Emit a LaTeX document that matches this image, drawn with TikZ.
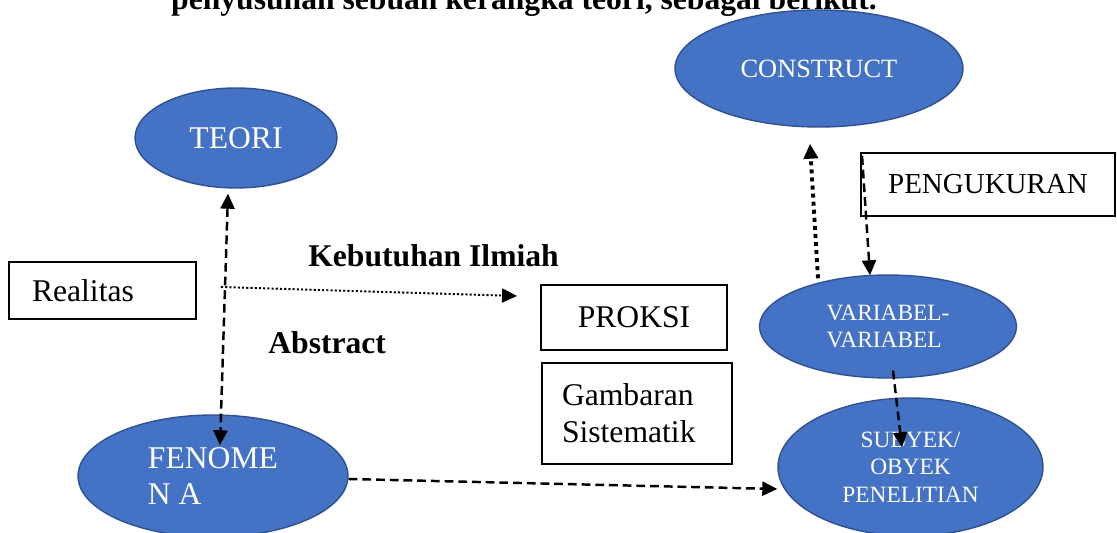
\documentclass[tikz,border=0pt]{standalone}
\usepackage{fontspec}
\setmainfont{Liberation Serif}
\usetikzlibrary{arrows.meta, shapes.geometric, calc}
\definecolor{nodeblue}{HTML}{4472C4}
\definecolor{nodeedge}{HTML}{2F528F}

\begin{document}
\begin{tikzpicture}[
    x=0.02cm, y=-0.02cm,
    >={Triangle[length=0.3cm, width=0.28cm]},
    elp/.style={ellipse, draw=nodeedge, line width=0.8pt, fill=nodeblue,
                text=white, inner sep=0pt},
    box/.style={draw, line width=1.1pt, inner sep=0pt,
                font=\fontsize{18}{21}\selectfont},
    lbl/.style={font=\bfseries\fontsize{18}{21}\selectfont, inner sep=0pt},
    dasharr/.style={->, line width=1.4pt, dash pattern=on 5pt off 2.8pt},
    dotarr/.style={->, line width=1.1pt, dash pattern=on 1.2pt off 1.2pt},
    dotthick/.style={->, line width=2.2pt, dash pattern=on 2.3pt off 2.3pt}
  ]
  \clip (0,0) rectangle (1117,533);

  % Title line (cut at the top)
  \node[lbl, anchor=base] (judul) at (524,10)
    {penyusunan sebuah kerangka teori, sebagai berikut.};

  % Ellipses
  \node[elp, minimum width=5.76cm, minimum height=2.34cm,
        font=\fontsize{15}{18}\selectfont] (construct) at (819,68.5) {CONSTRUCT};
  \node[elp, minimum width=4.04cm, minimum height=2.0cm,
        font=\fontsize{18}{21}\selectfont] (teori) at (236,138) {TEORI};
  \node[elp, minimum width=5.14cm, minimum height=2.06cm, align=left,
        font=\fontsize{13.3}{15.4}\selectfont] (variabel) at (888,326.5)
    {VARIABEL-\\VARIABEL};
  \node[elp, minimum width=5.4cm, minimum height=2.44cm, align=left,
        font=\fontsize{18}{20.5}\selectfont] (fenomena) at (213,476)
    {FENOME\\N A\hspace{2.6em}};
  \node[elp, minimum width=5.3cm, minimum height=2.76cm, align=center,
        font=\fontsize{13.3}{15.6}\selectfont] (subyek) at (910.5,467)
    {SUBYEK/\\OBYEK\\PENELITIAN};

  % Boxes
  \node[box, minimum width=3.74cm, minimum height=1.14cm, inner xsep=0.46cm,
        text width=2.82cm, align=left] (realitas) at (102.5,290.5) {Realitas};
  \node[box, minimum width=3.72cm, minimum height=1.3cm] (proksi)
    at (634,317.5) {PROKSI};
  \node[box, minimum width=3.8cm, minimum height=2.02cm, inner xsep=0.4cm,
        text width=3.0cm, align=left] (gambaran) at (637,413.5)
    {Gambaran\\Sistematik};
  \node[box, minimum width=5.08cm, minimum height=1.26cm,
        font=\fontsize{16.5}{19}\selectfont] (pengukuran) at (988,184.5)
    {PENGUKURAN};

  % Labels
  \node[lbl, anchor=base west] (kebutuhan) at (308,267) {Kebutuhan Ilmiah};
  \node[lbl, anchor=base west] (abstrak) at (268,354) {Abstract};

  % Connectors
  \draw[dasharr, <->] ($(teori.south)+(-8,5)$) -- ($(fenomena.north)+(7,31)$);
  \draw[dotarr] ($(realitas.east)+(24,-3.5)$) -- ($(proksi.west)+(-23,-21.5)$);
  \draw[dasharr] ($(fenomena.east)+(0,3)$) -- ($(subyek.west)+(0,22)$);
  \draw[dasharr] ($(variabel.south)+(5,-8)$) -- ($(subyek.north)+(-8.5,50)$);
  \draw[dotthick] ($(variabel.north)+(-70,4)$) -- ($(construct.south)+(-9,16)$);
  \draw[dasharr] ($(pengukuran.north west)+(2,4)$) -- ($(variabel.north)+(-18,1)$);
\end{tikzpicture}
\end{document}
